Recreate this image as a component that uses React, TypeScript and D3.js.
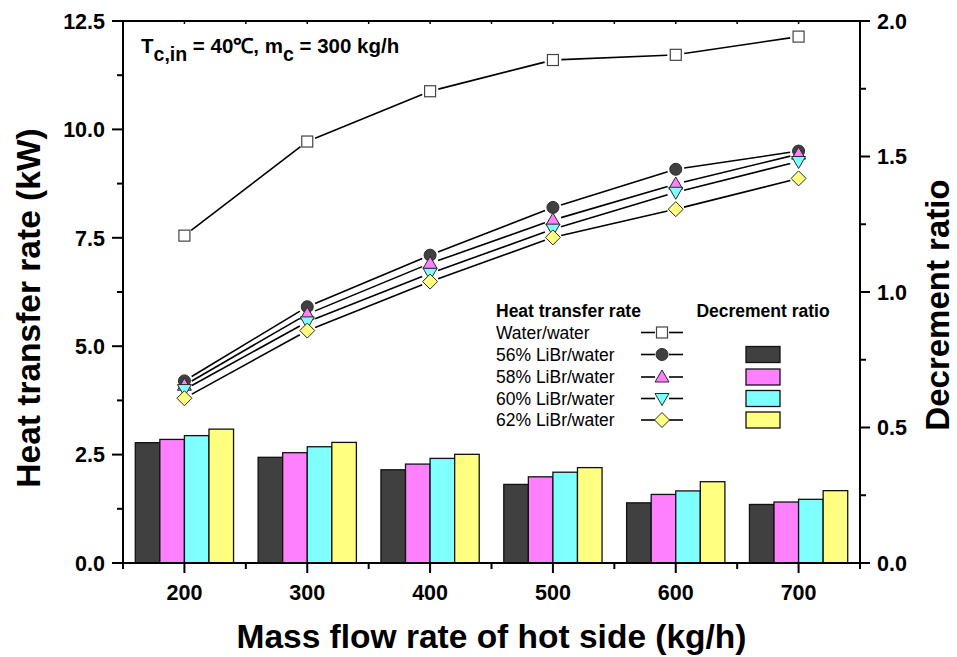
import * as d3 from "d3";
import React from "react";

// mass flow rate of hot side (kg/h)
const categories = [200, 300, 400, 500, 600, 700];

// heat transfer rate (kW)
const waterWater = [7.55, 9.72, 10.88, 11.6, 11.72, 12.14];
const libr56 = [4.2, 5.91, 7.1, 8.2, 9.08, 9.5];
const libr58 = [4.1, 5.74, 6.91, 7.91, 8.74, 9.43];
const libr60 = [4.0, 5.56, 6.68, 7.7, 8.55, 9.26];
const libr62 = [3.8, 5.36, 6.49, 7.51, 8.16, 8.87];

// decrement ratio
const ratio56 = [0.444, 0.39, 0.344, 0.29, 0.222, 0.216];
const ratio58 = [0.456, 0.407, 0.365, 0.318, 0.253, 0.225];
const ratio60 = [0.47, 0.429, 0.386, 0.335, 0.266, 0.235];
const ratio62 = [0.494, 0.445, 0.401, 0.352, 0.3, 0.267];

const leftTicks = [0, 2.5, 5, 7.5, 10, 12.5];
const rightTicks = [0, 0.5, 1, 1.5, 2];

const W = 957;
const H = 657;
const margin = { top: 21, right: 97, bottom: 94, left: 123 };
const FONT = "'Liberation Sans', Arial, sans-serif";

const lineSeries = [
  { name: "Water/water", values: waterWater, marker: "square", fill: "#ffffff" },
  { name: "56% LiBr/water", values: libr56, marker: "circle", fill: "#404040" },
  { name: "58% LiBr/water", values: libr58, marker: "up", fill: "#ff80ff" },
  { name: "60% LiBr/water", values: libr60, marker: "down", fill: "#80ffff" },
  { name: "62% LiBr/water", values: libr62, marker: "diamond", fill: "#ffff80" },
];

const barSeries = [
  { key: "56", values: ratio56, fill: "#404040" },
  { key: "58", values: ratio58, fill: "#ff80ff" },
  { key: "60", values: ratio60, fill: "#80ffff" },
  { key: "62", values: ratio62, fill: "#ffff80" },
];

const Marker = ({ type, x, y, fill }) => {
  const stroke = "#2a2a2a";
  if (type === "square")
    return <rect x={x - 5.5} y={y - 5.5} width={11} height={11} fill={fill} stroke="#444" strokeWidth={1.2} />;
  if (type === "circle") return <circle cx={x} cy={y} r={6} fill={fill} stroke={stroke} strokeWidth={1} />;
  if (type === "up")
    return <path d={`M${x},${y - 7}L${x + 7},${y + 5}L${x - 7},${y + 5}Z`} fill={fill} stroke={stroke} strokeWidth={1} />;
  if (type === "down")
    return <path d={`M${x},${y + 7}L${x + 7},${y - 5}L${x - 7},${y - 5}Z`} fill={fill} stroke={stroke} strokeWidth={1} />;
  return <path d={`M${x},${y - 7.5}L${x + 7.5},${y}L${x},${y + 7.5}L${x - 7.5},${y}Z`} fill={fill} stroke={stroke} strokeWidth={1} />;
};

// segment between two markers with a small gap at each end
const gapSegment = (x1, y1, x2, y2, gap) => {
  const dx = x2 - x1;
  const dy = y2 - y1;
  const len = Math.sqrt(dx * dx + dy * dy);
  const ux = dx / len;
  const uy = dy / len;
  return { x1: x1 + ux * gap, y1: y1 + uy * gap, x2: x2 - ux * gap, y2: y2 - uy * gap };
};

export default function App() {
  const x0 = margin.left;
  const x1 = W - margin.right;
  const y0 = H - margin.bottom;
  const y1 = margin.top;

  const x = d3.scaleBand().domain(categories.map(String)).range([x0, x1]).paddingInner(0.2).paddingOuter(0.1);
  const xSub = d3.scaleBand().domain(barSeries.map(d => d.key)).range([0, x.bandwidth()]);
  const yLeft = d3.scaleLinear().domain([0, 12.5]).range([y0, y1]);
  const yRight = d3.scaleLinear().domain([0, 2]).range([y0, y1]);
  const cx = c => x(String(c)) + x.bandwidth() / 2;

  const step = x.step();
  const bounds = d3.range(categories.length + 1).map(i => x0 + i * step);

  const leftMinor = leftTicks.slice(0, -1).map(t => t + 1.25);
  const rightMinor = rightTicks.slice(0, -1).map(t => t + 0.25);

  const legendX = 496;
  const legendRows = [332.5, 354.5, 377, 398.5, 420];

  return (
    <svg width={W} height={H} style={{ position: "absolute", left: 0, top: 0, background: "#fff" }} fontFamily={FONT}>
      <rect width={W} height={H} fill="#fff" />

      {/* bars (right axis) */}
      {categories.map((c, i) => (
        <g key={c} transform={`translate(${x(String(c))},0)`}>
          {barSeries.map(s => (
            <rect
              key={s.key}
              x={xSub(s.key)}
              y={yRight(s.values[i])}
              width={xSub.bandwidth()}
              height={y0 - yRight(s.values[i])}
              fill={s.fill}
              stroke="#111"
              strokeWidth={1.3}
            />
          ))}
        </g>
      ))}

      {/* lines (left axis) */}
      {lineSeries.map(s => (
        <g key={s.name}>
          {s.values.slice(1).map((v, i) => {
            const seg = gapSegment(cx(categories[i]), yLeft(s.values[i]), cx(categories[i + 1]), yLeft(v), 8.5);
            return <line key={i} {...seg} stroke="#000" strokeWidth={1.6} />;
          })}
        </g>
      ))}
      {lineSeries.map(s => (
        <g key={s.name + "m"}>
          {s.values.map((v, i) => (
            <Marker key={i} type={s.marker} x={cx(categories[i])} y={yLeft(v)} fill={s.fill} />
          ))}
        </g>
      ))}

      {/* frame */}
      <rect x={x0} y={y1} width={x1 - x0} height={y0 - y1} fill="none" stroke="#000" strokeWidth={2} />

      {/* left axis */}
      {leftTicks.map(t => (
        <g key={t}>
          <line x1={x0 - 11} x2={x0} y1={yLeft(t)} y2={yLeft(t)} stroke="#000" strokeWidth={2} />
          <text x={105} y={yLeft(t)} dy="0.36em" textAnchor="end" fontSize={21.5} fontWeight="bold">
            {d3.format(".1f")(t)}
          </text>
        </g>
      ))}
      {leftMinor.map(t => (
        <line key={t} x1={x0 - 6} x2={x0} y1={yLeft(t)} y2={yLeft(t)} stroke="#000" strokeWidth={2} />
      ))}

      {/* right axis */}
      {rightTicks.map(t => (
        <g key={t}>
          <line x1={x1} x2={x1 + 10} y1={yRight(t)} y2={yRight(t)} stroke="#000" strokeWidth={2} />
          <text x={877} y={yRight(t)} dy="0.36em" fontSize={21.5} fontWeight="bold">
            {d3.format(".1f")(t)}
          </text>
        </g>
      ))}
      {rightMinor.map(t => (
        <line key={t} x1={x1} x2={x1 + 6} y1={yRight(t)} y2={yRight(t)} stroke="#000" strokeWidth={2} />
      ))}

      {/* bottom axis */}
      {categories.map(c => (
        <g key={c}>
          <line x1={cx(c)} x2={cx(c)} y1={y0} y2={y0 + 10} stroke="#000" strokeWidth={2} />
          <line x1={cx(c)} x2={cx(c)} y1={y1} y2={y1 + 3} stroke="#000" strokeWidth={1.5} />
          <text x={cx(c)} y={600} textAnchor="middle" fontSize={21.5} fontWeight="bold">
            {c}
          </text>
        </g>
      ))}
      {bounds.map(b => (
        <g key={b}>
          <line x1={b} x2={b} y1={y0} y2={y0 + 6} stroke="#000" strokeWidth={2} />
          <line x1={b} x2={b} y1={y1} y2={y1 + 3} stroke="#000" strokeWidth={1.5} />
        </g>
      ))}

      {/* axis titles */}
      <text x={(x0 + x1) / 2} y={648} textAnchor="middle" fontSize={33.5} fontWeight="bold">
        Mass flow rate of hot side (kg/h)
      </text>
      <text transform={`translate(40,${(y0 + y1) / 2 + 16}) rotate(-90)`} textAnchor="middle" fontSize={33.5} fontWeight="bold">
        Heat transfer rate (kW)
      </text>
      <text transform={`translate(949,305) rotate(-90)`} textAnchor="middle" fontSize={33} fontWeight="bold">
        Decrement ratio
      </text>

      {/* annotation */}
      <text x={141} y={53} fontSize={20.5} fontWeight="bold">
        T
        <tspan dy={8} fontSize={19.5}>c,in</tspan>
        <tspan dy={-8}> = 40℃, m</tspan>
        <tspan dy={8} fontSize={19.5}>c</tspan>
        <tspan dy={-8}> = 300 kg/h</tspan>
      </text>

      {/* legend */}
      <text x={legendX} y={317} fontSize={17.5} fontWeight="bold">
        Heat transfer rate
      </text>
      <text x={763} y={317} textAnchor="middle" fontSize={17.5} fontWeight="bold">
        Decrement ratio
      </text>
      {lineSeries.map((s, i) => (
        <g key={s.name}>
          <text x={legendX} y={legendRows[i]} dy="0.35em" fontSize={17.5}>
            {s.name}
          </text>
          <line x1={641} x2={655} y1={legendRows[i]} y2={legendRows[i]} stroke="#000" strokeWidth={1.6} />
          <line x1={669} x2={683} y1={legendRows[i]} y2={legendRows[i]} stroke="#000" strokeWidth={1.6} />
          <Marker type={s.marker} x={662} y={legendRows[i]} fill={s.fill} />
        </g>
      ))}
      {barSeries.map((s, i) => (
        <rect
          key={s.key}
          x={746}
          y={legendRows[i + 1] - 8}
          width={34}
          height={16}
          fill={s.fill}
          stroke="#111"
          strokeWidth={1.3}
        />
      ))}
    </svg>
  );
}
